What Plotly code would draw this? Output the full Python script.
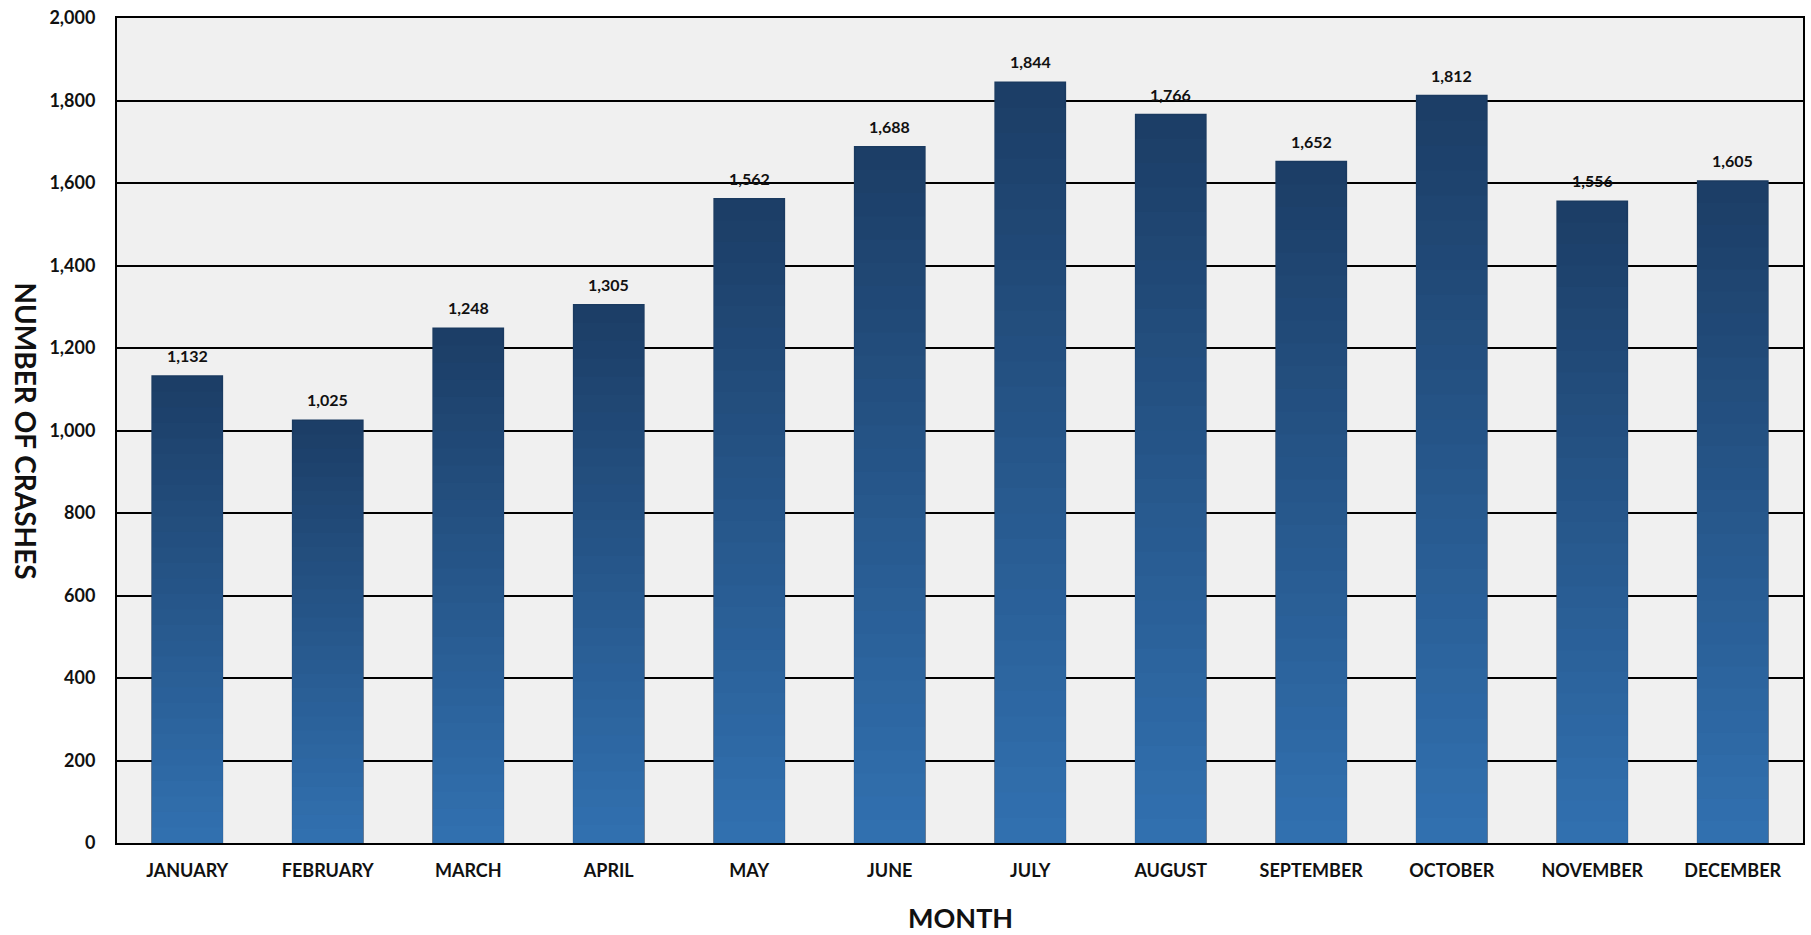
import plotly.graph_objects as go

months = ["JANUARY", "FEBRUARY", "MARCH", "APRIL", "MAY", "JUNE", "JULY",
          "AUGUST", "SEPTEMBER", "OCTOBER", "NOVEMBER", "DECEMBER"]
crashes = [1132, 1025, 1248, 1305, 1562, 1688, 1844, 1766, 1652, 1812, 1556, 1605]
y_ticks = list(range(0, 2001, 200))

top_rgb = (28, 62, 103)
bot_rgb = (49, 112, 175)
N = 30


def mix(t):
    r = [round(a + (b - a) * t) for a, b in zip(top_rgb, bot_rgb)]
    return f"rgb({r[0]},{r[1]},{r[2]})"


fig = go.Figure()
for k in range(N):
    frac = 1 - k / N
    fig.add_trace(go.Bar(
        x=months,
        y=[v * frac for v in crashes],
        marker=dict(color=mix(k / (N - 1)),
                    line=dict(color="#1a3a60" if k == 0 else mix(k / (N - 1)),
                              width=1.5 if k == 0 else 0)),
        hoverinfo="skip" if k else None,
        showlegend=False,
    ))

annotations = [
    dict(x=m, y=v, text=f"<b>{v:,}</b>", showarrow=False, yanchor="bottom",
         yshift=9, font=dict(family="Lato", size=16, color="#111111"))
    for m, v in zip(months, crashes)
]
annotations.append(dict(
    text="<b>NUMBER OF CRASHES</b>", xref="paper", yref="paper",
    x=-117 / 1686 + 26 / 1686, y=0.5, xanchor="center", yanchor="middle",
    textangle=90, showarrow=False, font=dict(family="Lato", size=28, color="#111111")))
annotations.append(dict(
    text="<b>MONTH</b>", xref="paper", yref="paper",
    x=0.5, y=-75 / 826, xanchor="center", yanchor="middle",
    showarrow=False, font=dict(family="Lato", size=27, color="#111111")))

fig.update_layout(
    width=1811, height=935,
    barmode="overlay", bargap=0.5,
    paper_bgcolor="white", plot_bgcolor="#f0f0f0",
    margin=dict(l=117, r=8, t=18, b=92),
    font=dict(family="Lato", color="#111111"),
    annotations=annotations,
    xaxis=dict(
        automargin=False,
        tickfont=dict(family="Lato", size=18, weight="bold"),
        showline=True, linecolor="black", linewidth=2, mirror=True,
        ticks="", showgrid=False, ticklabelstandoff=10,
    ),
    yaxis=dict(
        automargin=False,
        range=[0, 2000], tickvals=y_ticks, tickformat=",",
        tickfont=dict(family="Lato", size=18, weight="bold"),
        showline=True, linecolor="black", linewidth=2, mirror=True,
        showgrid=True, gridcolor="black", gridwidth=1.5,
        zeroline=False, ticks="", ticklabelstandoff=16,
    ),
)

fig.write_html("out.html", config={"displayModeBar": False},
               post_script="document.body.style.margin='0';")
